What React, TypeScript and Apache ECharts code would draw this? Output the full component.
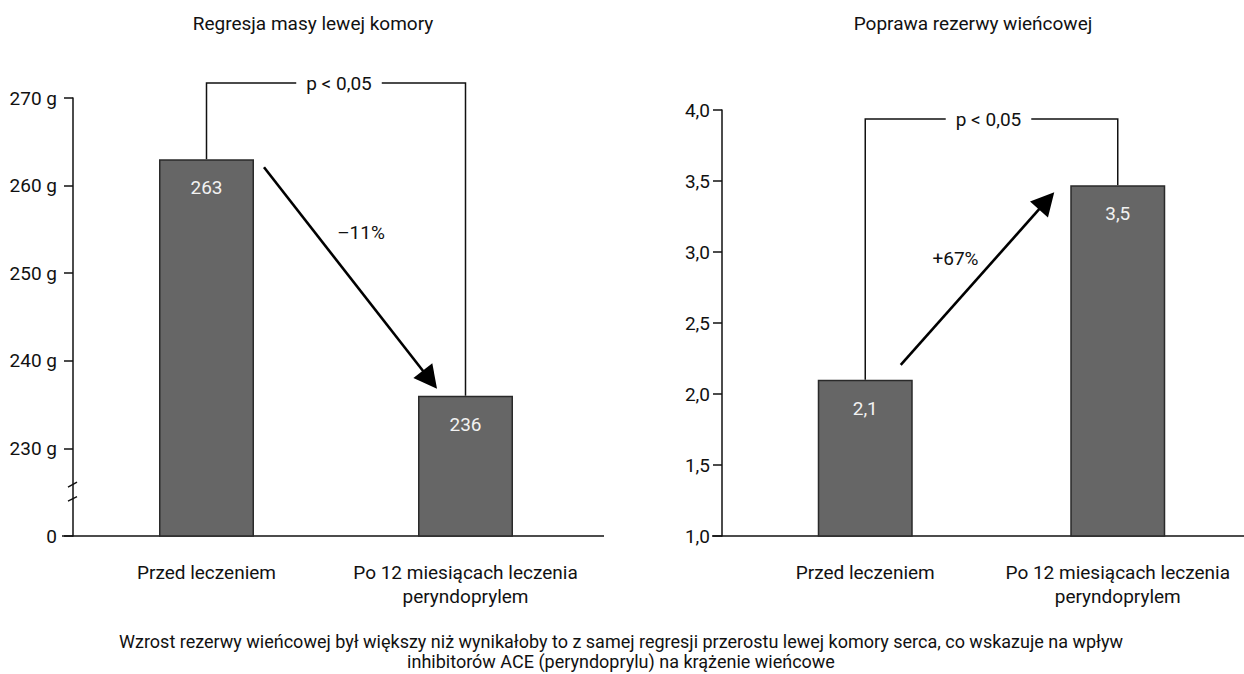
import React, { useEffect, useRef } from 'react';
import * as echarts from 'echarts';

const categories = ['Przed leczeniem', 'Po 12 miesiącach leczenia\nperyndoprylem'];
const massValues = [263, 236];
const reserveValues = [2.1, 3.47];
const massAxis = { min: 220, max: 270, interval: 10, breakValue: 225 };
const reserveAxis = { min: 1, max: 4, interval: 0.5 };
const titles = ['Regresja masy lewej komory', 'Poprawa rezerwy wieńcowej'];
const changeLabels = ['–11%', '+67%'];
const pLabel = 'p < 0,05';
const captionLines = [
  'Wzrost rezerwy wieńcowej był większy niż wynikałoby to z samej regresji przerostu lewej komory serca, co wskazuje na wpływ',
  'inhibitorów ACE (peryndoprylu) na krążenie wieńcowe',
];

const FONT = "Roboto, 'Liberation Sans', sans-serif";
const INK = '#111111';
const FS = 19;

function arrow(start: number[], tip: number[]) {
  const dx = tip[0] - start[0];
  const dy = tip[1] - start[1];
  const len = Math.sqrt(dx * dx + dy * dy);
  const ux = dx / len;
  const uy = dy / len;
  const headLen = 23;
  const half = 12;
  const bx = tip[0] - ux * headLen;
  const by = tip[1] - uy * headLen;
  return [
    {
      type: 'line',
      shape: { x1: start[0], y1: start[1], x2: bx + ux * 2, y2: by + uy * 2 },
      style: { stroke: '#000', lineWidth: 2.6 },
    },
    {
      type: 'polygon',
      shape: {
        points: [
          [tip[0], tip[1]],
          [bx - uy * half, by + ux * half],
          [bx + uy * half, by - ux * half],
        ],
      },
      style: { fill: '#000' },
    },
  ];
}

export default function App() {
  const ref = useRef<HTMLDivElement>(null);
  useEffect(() => {
    if (!ref.current) return;
    const chart = echarts.init(ref.current, undefined, { renderer: 'svg' });
    const axisLabelBase = { color: INK, fontSize: FS, fontFamily: FONT };
    const yCommon = {
      type: 'value',
      splitLine: { show: false },
      axisLine: { show: true, lineStyle: { color: INK, width: 1.5 } },
      axisTick: { show: true, length: 9, lineStyle: { color: INK, width: 1.5 } },
    };
    const xCommon = {
      type: 'category',
      data: categories,
      axisLine: { show: false },
      axisTick: { show: false },
      axisLabel: { ...axisLabelBase, margin: 24, lineHeight: 24, interval: 0 },
    };
    const barCommon = {
      type: 'bar',
      barWidth: 95,
      itemStyle: { color: '#666666', borderColor: '#2a2a2a', borderWidth: 1.5 },
      label: {
        show: true,
        position: 'insideTop',
        distance: 19,
        color: '#f2f2f2',
        fontSize: FS,
        fontFamily: FONT,
      },
    };
    chart.setOption({
      animation: false,
      backgroundColor: '#ffffff',
      textStyle: { fontFamily: FONT },
      grid: [
        { left: 77, top: 98, width: 518, bottom: 138 },
        { left: 739, top: 110, width: 518, bottom: 138 },
      ],
      xAxis: [
        { ...xCommon, gridIndex: 0 },
        { ...xCommon, gridIndex: 1 },
      ],
      yAxis: [
        {
          ...yCommon,
          gridIndex: 0,
          offset: 4,
          min: massAxis.min,
          max: massAxis.max,
          interval: massAxis.interval,
          axisLabel: {
            ...axisLabelBase,
            margin: 16,
            formatter: (v: number) => (v === massAxis.min ? '0' : `${v} g`),
          },
        },
        {
          ...yCommon,
          gridIndex: 1,
          offset: 17,
          min: reserveAxis.min,
          max: reserveAxis.max,
          interval: reserveAxis.interval,
          axisLabel: {
            ...axisLabelBase,
            margin: 12,
            formatter: (v: number) => v.toFixed(1).replace('.', ','),
          },
        },
      ],
      series: [
        {
          ...barCommon,
          xAxisIndex: 0,
          yAxisIndex: 0,
          data: massValues,
          label: { ...barCommon.label, formatter: (p: any) => String(p.value) },
        },
        {
          ...barCommon,
          xAxisIndex: 1,
          yAxisIndex: 1,
          data: reserveValues,
          label: {
            ...barCommon.label,
            formatter: (p: any) => Number(p.value).toFixed(1).replace('.', ','),
          },
        },
      ],
    });

    const px = (g: number, cat: number, val: number) =>
      chart.convertToPixel({ xAxisIndex: g, yAxisIndex: g }, [cat, val]) as number[];

    const a1 = px(0, 0, massValues[0]);
    const a2 = px(0, 1, massValues[1]);
    const b1 = px(1, 0, reserveValues[0]);
    const b2 = px(1, 1, reserveValues[1]);
    const leftBase = px(0, 0, massAxis.min)[1];
    const rightBase = px(1, 0, reserveAxis.min)[1];
    const leftTop = px(0, 0, massAxis.max)[1];
    const rightTop = px(1, 0, reserveAxis.max)[1];
    const yb = px(0, 0, massAxis.breakValue)[1];
    const leftAxisX = 73;
    const byL = leftTop - 15;
    const byR = rightTop + 9;

    const textStyle = (extra: any) => ({
      fill: INK,
      fontSize: FS,
      fontFamily: FONT,
      align: 'center',
      verticalAlign: 'middle',
      ...extra,
    });

    const startL = [a1[0] + 57.5, a1[1] + 8];
    const tipL = [a2[0] - 28.5, a2[1] - 7];
    const startR = [b1[0] + 35.5, b1[1] - 15];
    const tipR = [b2[0] - 63.5, b2[1] + 7];

    const graphic: any[] = [
      { type: 'line', shape: { x1: 62, y1: leftBase, x2: 604, y2: leftBase }, style: { stroke: INK, lineWidth: 1.5 } },
      { type: 'line', shape: { x1: 712, y1: rightBase, x2: 1244, y2: rightBase }, style: { stroke: INK, lineWidth: 1.5 } },
      { type: 'rect', shape: { x: leftAxisX - 4, y: yb - 8.5, width: 8, height: 13.5 }, style: { fill: '#ffffff' } },
      { type: 'line', shape: { x1: leftAxisX - 5, y1: yb - 5, x2: leftAxisX + 4, y2: yb - 10 }, style: { stroke: INK, lineWidth: 1.5 } },
      { type: 'line', shape: { x1: leftAxisX - 5, y1: yb + 9, x2: leftAxisX + 4, y2: yb + 4.5 }, style: { stroke: INK, lineWidth: 1.5 } },
      {
        type: 'polyline',
        shape: { points: [[a1[0], a1[1]], [a1[0], byL], [a2[0], byL], [a2[0], a2[1]]] },
        style: { stroke: INK, lineWidth: 1.5, fill: null },
      },
      {
        type: 'polyline',
        shape: { points: [[b1[0], b1[1]], [b1[0], byR], [b2[0], byR], [b2[0], b2[1]]] },
        style: { stroke: INK, lineWidth: 1.5, fill: null },
      },
      {
        type: 'text',
        x: (a1[0] + a2[0]) / 2 + 3,
        y: byL,
        z: 10,
        style: textStyle({ text: pLabel, backgroundColor: '#ffffff', padding: [2, 10] }),
      },
      {
        type: 'text',
        x: (b1[0] + b2[0]) / 2 - 3,
        y: byR,
        z: 10,
        style: textStyle({ text: pLabel, backgroundColor: '#ffffff', padding: [2, 10] }),
      },
      ...arrow(startL, tipL),
      ...arrow(startR, tipR),
      {
        type: 'text',
        x: (startL[0] + tipL[0]) / 2 + 10.5,
        y: (startL[1] + tipL[1]) / 2 - 46,
        style: textStyle({ text: changeLabels[0] }),
      },
      {
        type: 'text',
        x: (startR[0] + tipR[0]) / 2 - 22,
        y: (startR[1] + tipR[1]) / 2 - 20,
        style: textStyle({ text: changeLabels[1] }),
      },
      { type: 'text', x: 313, y: 23, style: textStyle({ text: titles[0] }) },
      { type: 'text', x: 973, y: 23, style: textStyle({ text: titles[1] }) },
      { type: 'text', x: 621, y: 641, style: textStyle({ text: captionLines[0], fontSize: 18 }) },
      { type: 'text', x: 621, y: 661, style: textStyle({ text: captionLines[1], fontSize: 18 }) },
    ];
    chart.setOption({ graphic });

    return () => chart.dispose();
  }, []);
  return (
    <div
      ref={ref}
      style={{ position: 'fixed', left: 0, top: 0, width: 1244, height: 674, background: '#fff' }}
    />
  );
}
